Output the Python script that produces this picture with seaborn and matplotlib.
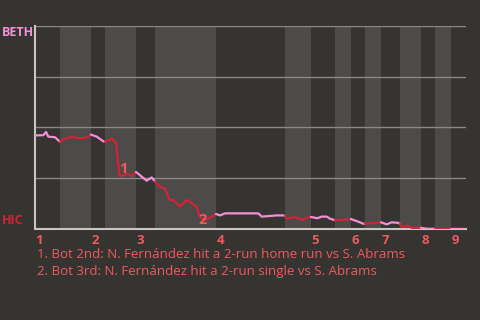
import matplotlib
matplotlib.use("Agg")
import matplotlib.pyplot as plt
import matplotlib.transforms as mtransforms
import seaborn as sns
import pandas as pd
import numpy as np

# ---- data ----
# game progress (plate-appearance scale) and BETH win probability (%)
progress = [0, 8.3, 11, 13.3, 20, 25,
            28.3, 36.7, 41.7, 50, 56,
            61.7, 68.3, 70,
            76.7, 81, 84.3, 86.7, 91.7, 96.7, 101,
            111.7, 116.7, 120,
            125, 130, 133.3, 135, 138.3, 145, 151.7, 156.7, 161.7, 165, 170, 176.7, 181,
            185, 190, 223.3, 226.7, 241.7, 248.3, 250,
            251.7, 258.3, 263.3, 267.7, 271.7, 276,
            282.3, 286.7, 291.7, 295, 300,
            310, 316,
            323.3, 328.3, 330,
            340, 346,
            351.7, 356.7, 363.3, 365,
            366.7, 372.3, 376.7, 386,
            391.7, 400,
            416,
            431]
win_prob = [46.1, 46.2, 47.8, 45.5, 45.2, 42.9,
            44.2, 45.5, 44.8, 44.8, 46.5,
            45.5, 43.2, 42.9,
            44.5, 42.5, 26.5, 26.1, 27.2, 26.1, 28.1,
            23.8, 25.4, 23.4,
            20.7, 20.0, 15.6, 14.3, 14.3, 11.0, 14.3, 12.7, 11.0, 5.8, 4.4, 6.1, 7.4,
            6.7, 7.7, 7.7, 6.1, 6.7, 6.7, 6.4,
            5.1, 5.8, 5.4, 4.4, 5.6, 5.9,
            5.3, 6.1, 6.1, 5.1, 4.3,
            4.6, 4.9,
            3.6, 2.6, 2.6,
            3.0, 3.3,
            2.3, 3.3, 3.0, 2.5,
            1.0, 1.6, 0.6, 0.6,
            0.1, 0.1,
            0.1,
            0.1]
half_bounds = [0, 25, 56, 70, 101, 120, 181, 250, 276, 300, 316, 330, 346,
               365, 386, 400, 416, 431]
inning_labels = ["1", "2", "3", "4", "5", "6", "7", "8", "9"]
away_team = "BETH"
home_team = "HIC"
event_labels = ["1", "2"]
event_x = [86.7, 165]
event_wp = [26.1, 4.4]
notes = ["1. Bot 2nd: N. Fernández hit a 2-run home run vs S. Abrams",
         "2. Bot 3rd: N. Fernández hit a 2-run single vs S. Abrams"]

# ---- style ----
BG = "#363431"
BAND = "#4d4b49"
PINK = "#f48fd6"
RED = "#d42236"
SALMON = "#ee5a5e"
GRID = "#8a8886"
SPINE = "#c8c6c4"

sns.set_theme(style="dark")
plt.rcParams["font.family"] = ["Open Sans", "DejaVu Sans"]

fig = plt.figure(figsize=(4.8, 3.2), dpi=100, facecolor=BG)
ax = fig.add_axes([35 / 480, 1 - 229 / 320, 431 / 480, 203 / 320])
ax.set_facecolor(BG)

# bands for bottom halves
for i in range(1, len(half_bounds) - 1, 2):
    ax.axvspan(half_bounds[i], half_bounds[i + 1], color=BAND, lw=0, zorder=0)

for yv in [25, 50, 75, 100]:
    ax.axhline(yv, color=GRID, lw=1, zorder=1)

df = pd.DataFrame({"x": progress, "wp": win_prob})
half_idx = np.searchsorted(half_bounds, df["x"].values, side="left") - 1
half_idx = np.clip(half_idx, 0, len(half_bounds) - 2)
df["half"] = half_idx

prev_last = None
for h in sorted(df["half"].unique()):
    seg = df[df["half"] == h]
    if prev_last is not None:
        seg = pd.concat([prev_last, seg])
    color = PINK if h % 2 == 0 else RED
    sns.lineplot(data=seg, x="x", y="wp", color=color, lw=1.6, sort=False,
                 estimator=None, ax=ax, zorder=3)
    prev_last = df[df["half"] == h].tail(1)

ax.set_xlim(0, 431)
ax.set_ylim(0, 100)
ax.set_xticks([])
ax.set_yticks([])
ax.set_xlabel("")
ax.set_ylabel("")
for s in ["top", "right"]:
    ax.spines[s].set_visible(False)
for s in ["left", "bottom"]:
    ax.spines[s].set_visible(True)
    ax.spines[s].set_color(SPINE)
    ax.spines[s].set_linewidth(1.5)

trans = mtransforms.blended_transform_factory(ax.transData, ax.transAxes)
for lab, xb in zip(inning_labels, half_bounds[0:-1:2]):
    ax.text(xb + 0.5, -0.025, lab, transform=trans, ha="left", va="top",
            color=SALMON, fontsize=9.5, fontweight="bold", clip_on=False)

# event markers (pixel offsets for placement)
ev_offsets = [(1.5, 7), (3, 0)]
for lab, xe, ye, (dx, dy) in zip(event_labels, event_x, event_wp, ev_offsets):
    ax.annotate(lab, (xe, ye), xytext=(dx, dy), textcoords="offset pixels",
                ha="center", va="center", color=SALMON, fontsize=10.5,
                fontweight="bold", zorder=4)

fig.text(2 / 480, 1 - 33 / 320, away_team, ha="left", va="center", color=PINK,
         fontsize=9, fontweight="bold")
fig.text(2 / 480, 1 - 221 / 320, home_team, ha="left", va="center", color=RED,
         fontsize=9, fontweight="bold")

fig.text(37 / 480, 1 - 254 / 320, notes[0], ha="left", va="center",
         color=SALMON, fontsize=9.5)
fig.text(37 / 480, 1 - 271 / 320, notes[1], ha="left", va="center",
         color=SALMON, fontsize=9.5)

fig.savefig("out.png", dpi=100, facecolor=BG)
